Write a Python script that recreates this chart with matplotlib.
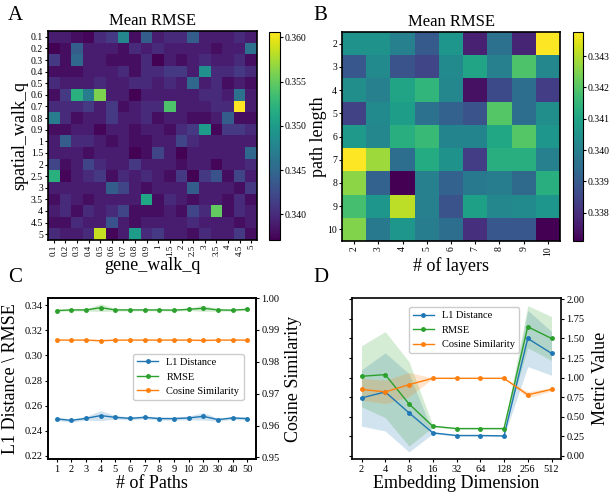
import numpy as np
import matplotlib
matplotlib.use("Agg")
import matplotlib.pyplot as plt

plt.rcParams['font.family'] = ['Liberation Serif', 'DejaVu Serif']
plt.rcParams['mathtext.fontset'] = 'stix'

# ---------------- data ----------------
q_labels = ["0.1", "0.2", "0.3", "0.4", "0.5", "0.6", "0.7", "0.8", "0.9",
            "1", "1.5", "2", "2.5", "3", "3.5", "4", "4.5", "5"]

rmse_q = [
    [0.339, 0.339, 0.338, 0.3375, 0.340, 0.341, 0.348, 0.338, 0.344, 0.339, 0.340, 0.340, 0.344, 0.339, 0.339, 0.339, 0.340, 0.339],
    [0.3372, 0.338, 0.344, 0.339, 0.339, 0.339, 0.338, 0.340, 0.339, 0.340, 0.339, 0.339, 0.339, 0.339, 0.338, 0.339, 0.339, 0.346],
    [0.341, 0.338, 0.345, 0.339, 0.339, 0.338, 0.338, 0.338, 0.340, 0.3372, 0.339, 0.338, 0.339, 0.340, 0.339, 0.339, 0.340, 0.338],
    [0.338, 0.338, 0.338, 0.339, 0.339, 0.339, 0.340, 0.338, 0.340, 0.340, 0.341, 0.341, 0.339, 0.349, 0.340, 0.340, 0.341, 0.340],
    [0.340, 0.339, 0.339, 0.339, 0.340, 0.339, 0.339, 0.340, 0.340, 0.339, 0.340, 0.339, 0.345, 0.339, 0.340, 0.338, 0.339, 0.338],
    [0.338, 0.341, 0.352, 0.347, 0.356, 0.339, 0.339, 0.3372, 0.339, 0.339, 0.339, 0.339, 0.339, 0.340, 0.340, 0.339, 0.346, 0.339],
    [0.340, 0.340, 0.340, 0.341, 0.339, 0.341, 0.338, 0.339, 0.340, 0.340, 0.354, 0.339, 0.339, 0.339, 0.340, 0.340, 0.3606, 0.339],
    [0.347, 0.340, 0.338, 0.339, 0.339, 0.341, 0.339, 0.339, 0.340, 0.338, 0.339, 0.339, 0.338, 0.338, 0.339, 0.344, 0.338, 0.338],
    [0.338, 0.338, 0.339, 0.339, 0.3375, 0.339, 0.339, 0.338, 0.339, 0.339, 0.338, 0.340, 0.341, 0.350, 0.3375, 0.341, 0.341, 0.340],
    [0.339, 0.344, 0.340, 0.340, 0.339, 0.338, 0.339, 0.338, 0.338, 0.339, 0.339, 0.342, 0.340, 0.339, 0.339, 0.339, 0.339, 0.339],
    [0.339, 0.339, 0.339, 0.338, 0.339, 0.339, 0.339, 0.3372, 0.338, 0.342, 0.339, 0.3372, 0.339, 0.339, 0.339, 0.339, 0.339, 0.345],
    [0.342, 0.338, 0.339, 0.342, 0.340, 0.339, 0.339, 0.341, 0.339, 0.339, 0.339, 0.338, 0.339, 0.339, 0.3375, 0.339, 0.339, 0.340],
    [0.352, 0.3375, 0.339, 0.340, 0.341, 0.338, 0.340, 0.339, 0.340, 0.339, 0.338, 0.341, 0.3372, 0.341, 0.343, 0.338, 0.342, 0.339],
    [0.339, 0.339, 0.339, 0.339, 0.339, 0.344, 0.342, 0.339, 0.338, 0.339, 0.339, 0.339, 0.344, 0.339, 0.339, 0.339, 0.338, 0.341],
    [0.338, 0.340, 0.339, 0.338, 0.339, 0.339, 0.339, 0.339, 0.351, 0.338, 0.340, 0.339, 0.338, 0.339, 0.339, 0.338, 0.340, 0.338],
    [0.339, 0.340, 0.338, 0.340, 0.339, 0.340, 0.342, 0.338, 0.338, 0.338, 0.339, 0.338, 0.342, 0.340, 0.355, 0.338, 0.340, 0.339],
    [0.338, 0.338, 0.340, 0.339, 0.339, 0.343, 0.339, 0.338, 0.339, 0.339, 0.339, 0.339, 0.340, 0.339, 0.339, 0.339, 0.338, 0.339],
    [0.340, 0.339, 0.339, 0.340, 0.3585, 0.3375, 0.339, 0.350, 0.340, 0.341, 0.339, 0.339, 0.338, 0.340, 0.339, 0.339, 0.341, 0.338],
]

path_lengths = ["2", "3", "4", "5", "6", "7", "8", "9", "10"]
n_layers = ["2", "3", "4", "5", "6", "7", "8", "9", "10"]
rmse_layers = [
    [0.3405, 0.3405, 0.3400, 0.3390, 0.3406, 0.3377, 0.3396, 0.3378, 0.34377],
    [0.3389, 0.3403, 0.3388, 0.3385, 0.3403, 0.3410, 0.3400, 0.3419, 0.3402],
    [0.3404, 0.3400, 0.3410, 0.3415, 0.3402, 0.3374, 0.3386, 0.3395, 0.3383],
    [0.3384, 0.3403, 0.3408, 0.3396, 0.3392, 0.3388, 0.3420, 0.3395, 0.3404],
    [0.3407, 0.3402, 0.3413, 0.3416, 0.3401, 0.3401, 0.3411, 0.3420, 0.3406],
    [0.34377, 0.3428, 0.3395, 0.3412, 0.3405, 0.3383, 0.3413, 0.3413, 0.3400],
    [0.3426, 0.3392, 0.3371, 0.3400, 0.3392, 0.3398, 0.3399, 0.3394, 0.3413],
    [0.3418, 0.3406, 0.3431, 0.3400, 0.3388, 0.3409, 0.3402, 0.3403, 0.3406],
    [0.3425, 0.3398, 0.3406, 0.3399, 0.3395, 0.3380, 0.3389, 0.3389, 0.3371],
]

paths = ["1", "2", "3", "4", "5", "6", "7", "8", "9", "10", "20", "30", "40", "50"]
l1_paths = [0.2494, 0.2483, 0.2499, 0.2521, 0.2507, 0.2499, 0.2507, 0.2497, 0.2497, 0.2502, 0.2515, 0.2489, 0.2502, 0.2497]
l1_paths_sd = [0.0012, 0.0012, 0.0015, 0.0040, 0.0015, 0.0012, 0.0012, 0.0012, 0.0012, 0.0015, 0.0030, 0.0012, 0.0012, 0.0012]
rmse_paths = [0.3358, 0.3363, 0.3363, 0.3381, 0.3363, 0.3363, 0.3363, 0.3363, 0.3361, 0.3368, 0.3376, 0.3363, 0.3361, 0.3368]
rmse_paths_sd = [0.0008, 0.0008, 0.0010, 0.0030, 0.0010, 0.0008, 0.0008, 0.0008, 0.0008, 0.0010, 0.0025, 0.0010, 0.0008, 0.0008]
cos_paths = [0.9868, 0.9868, 0.9868, 0.9866, 0.9868, 0.9868, 0.9868, 0.9868, 0.9868, 0.9868, 0.9867, 0.9868, 0.9868, 0.9868]
cos_paths_sd = [0.0001, 0.0001, 0.0001, 0.0002, 0.0001, 0.0001, 0.0001, 0.0001, 0.0001, 0.0001, 0.0002, 0.0001, 0.0001, 0.0001]

emb_dims = ["2", "4", "8", "16", "32", "64", "128", "256", "512"]
l1_emb = [0.740, 0.817, 0.550, 0.294, 0.260, 0.260, 0.255, 1.500, 1.310]
l1_emb_sd = [0.36, 0.50, 0.50, 0.012, 0.008, 0.008, 0.008, 0.36, 0.28]
rmse_emb = [1.017, 1.038, 0.664, 0.379, 0.349, 0.349, 0.349, 1.650, 1.500]
rmse_emb_sd = [0.39, 0.55, 0.54, 0.012, 0.008, 0.008, 0.008, 0.27, 0.28]
cos_emb = [0.850, 0.817, 0.910, 0.991, 0.991, 0.991, 0.991, 0.780, 0.850]
cos_emb_sd = [0.14, 0.15, 0.155, 0.005, 0.003, 0.003, 0.003, 0.04, 0.02]

# ---------------- figure ----------------
W, H = 610, 498
fig = plt.figure(figsize=(W / 100, H / 100), dpi=100)

def rect(x0, y0, x1, y1):
    return [x0 / W, 1 - y1 / H, (x1 - x0) / W, (y1 - y0) / H]

blue, green, orange = '#1f77b4', '#2ca02c', '#ff7f0e'

# ---- A ----
axA = fig.add_axes(rect(48, 31, 257, 240))
imA = axA.imshow(np.array(rmse_q), cmap='viridis', aspect='auto',
                 vmin=0.3371, vmax=0.3606, interpolation='nearest')
axA.set_xticks(range(len(q_labels)))
axA.set_xticklabels(q_labels, rotation=90, fontsize=6.5)
axA.set_yticks(range(len(q_labels)))
axA.set_yticklabels(q_labels, fontsize=7)
axA.tick_params(length=2, pad=1.5)
axA.set_title("Mean RMSE", fontsize=12, pad=4)
axA.set_xlabel("gene_walk_q", fontsize=13, labelpad=1)
axA.set_ylabel("spatial_walk_q", fontsize=13, labelpad=2)
for s in axA.spines.values():
    s.set_linewidth(1.2)
caxA = fig.add_axes(rect(269, 32, 280, 240))
cbA = fig.colorbar(imA, cax=caxA)
cbA.set_ticks([0.340, 0.345, 0.350, 0.355, 0.360])
cbA.ax.set_yticklabels(["0.340", "0.345", "0.350", "0.355", "0.360"])
cbA.ax.tick_params(labelsize=7, length=2, pad=1)

# ---- B ----
axB = fig.add_axes(rect(342, 32, 560, 241))
imB = axB.imshow(np.array(rmse_layers), cmap='viridis', aspect='auto',
                 vmin=0.3371, vmax=0.34377, interpolation='nearest')
axB.set_xticks(range(len(n_layers)))
axB.set_xticklabels(n_layers, rotation=90, fontsize=7)
axB.set_yticks(range(len(path_lengths)))
axB.set_yticklabels(path_lengths, fontsize=7)
axB.tick_params(length=2, pad=1.5)
axB.set_title("Mean RMSE", fontsize=12, pad=4)
axB.set_xlabel("# of layers", fontsize=13, labelpad=1)
axB.set_ylabel("path length", fontsize=13, labelpad=0)
for s in axB.spines.values():
    s.set_linewidth(1.2)
caxB = fig.add_axes(rect(573, 32, 583, 241))
cbB = fig.colorbar(imB, cax=caxB)
cbB.set_ticks([0.338, 0.339, 0.340, 0.341, 0.342, 0.343])
cbB.ax.set_yticklabels(["0.338", "0.339", "0.340", "0.341", "0.342", "0.343"])
cbB.ax.tick_params(labelsize=7, length=2, pad=1)

# ---- C ----
axC = fig.add_axes(rect(48, 298, 256, 459))
xc = np.arange(len(paths))
l1p, l1s = np.array(l1_paths), np.array(l1_paths_sd)
rp, rs = np.array(rmse_paths), np.array(rmse_paths_sd)
cp, cs = np.array(cos_paths), np.array(cos_paths_sd)
h1, = axC.plot(xc, l1p, marker='o', ms=2.5, lw=1, color=blue, label='L1 Distance')
axC.fill_between(xc, l1p - l1s, l1p + l1s, color=blue, alpha=0.2, lw=0)
h2, = axC.plot(xc, rp, marker='o', ms=2.5, lw=1, color=green, label='RMSE')
axC.fill_between(xc, rp - rs, rp + rs, color=green, alpha=0.2, lw=0)
axC.set_ylim(0.2175, 0.3458)
axC.set_yticks([0.22, 0.24, 0.26, 0.28, 0.30, 0.32, 0.34])
axC.set_yticklabels(["0.22", "0.24", "0.26", "0.28", "0.30", "0.32", "0.34"])
axC.set_xlim(-0.6, len(paths) - 0.4)
axC.set_xticks(xc)
axC.set_xticklabels(paths)
axC.tick_params(labelsize=7.5, length=2, pad=2)
axC.set_xlabel("# of Paths", fontsize=13, labelpad=1)
axC.set_ylabel("L1 Distance \\ RMSE", fontsize=13, labelpad=4)
axC2 = axC.twinx()
h3, = axC2.plot(xc, cp, marker='o', ms=2.5, lw=1, color=orange, label='Cosine Similarity')
axC2.fill_between(xc, cp - cs, cp + cs, color=orange, alpha=0.2, lw=0)
axC2.set_ylim(0.9495, 1.0)
axC2.set_yticks([0.95, 0.96, 0.97, 0.98, 0.99, 1.00])
axC2.set_yticklabels(["0.95", "0.96", "0.97", "0.98", "0.99", "1.00"])
axC2.tick_params(labelsize=7.5, length=2, pad=2)
axC2.set_ylabel("Cosine Similarity", fontsize=13, labelpad=4)
for a in (axC, axC2):
    for s in a.spines.values():
        s.set_linewidth(1.2)
axC.legend(handles=[h1, h2, h3], loc='center right', bbox_to_anchor=(0.94, 0.51),
           borderaxespad=0, fontsize=7.5, framealpha=1, edgecolor='#cccccc')

# ---- D ----
axD = fig.add_axes(rect(352, 298, 561, 459))
xd = np.arange(len(emb_dims))
series = [(l1_emb, l1_emb_sd, blue, 'L1 Distance'),
          (rmse_emb, rmse_emb_sd, green, 'RMSE'),
          (cos_emb, cos_emb_sd, orange, 'Cosine Similarity')]
hs = []
for v, sd, c, lab in series:
    v, sd = np.array(v), np.array(sd)
    h, = axD.plot(xd, v, marker='o', ms=2.5, lw=1, color=c, label=lab)
    axD.fill_between(xd, v - sd, v + sd, color=c, alpha=0.2, lw=0)
    hs.append(h)
axD.set_ylim(-0.04, 2.017)
axD.set_yticks([0, 0.25, 0.5, 0.75, 1.0, 1.25, 1.5, 1.75, 2.0])
axD.set_yticklabels(["0.00", "0.25", "0.50", "0.75", "1.00", "1.25", "1.50", "1.75", "2.00"])
axD.set_xlim(-0.4, len(emb_dims) - 0.6)
axD.set_xticks(xd)
axD.set_xticklabels(emb_dims)
axD.tick_params(axis='y', left=True, right=True, labelleft=False, labelright=True,
                labelsize=7.5, length=2, pad=2)
axD.tick_params(axis='x', labelsize=7.5, length=2, pad=2)
axD.yaxis.set_label_position('right')
axD.set_ylabel("Metric Value", fontsize=13, labelpad=5)
axD.set_xlabel("Embedding Dimension", fontsize=13, labelpad=1)
for s in axD.spines.values():
    s.set_linewidth(1.2)
axD.legend(handles=hs, loc='upper center', bbox_to_anchor=(0.536, 0.945),
           borderaxespad=0, fontsize=7.5, framealpha=1, edgecolor='#cccccc')

# panel letters
for lab, x, y in [("A", 8, 20), ("B", 313, 20), ("C", 8, 282), ("D", 313, 282)]:
    fig.text(x / W, 1 - y / H, lab, fontsize=15, ha='left', va='baseline')

fig.savefig("out.png", dpi=100)
